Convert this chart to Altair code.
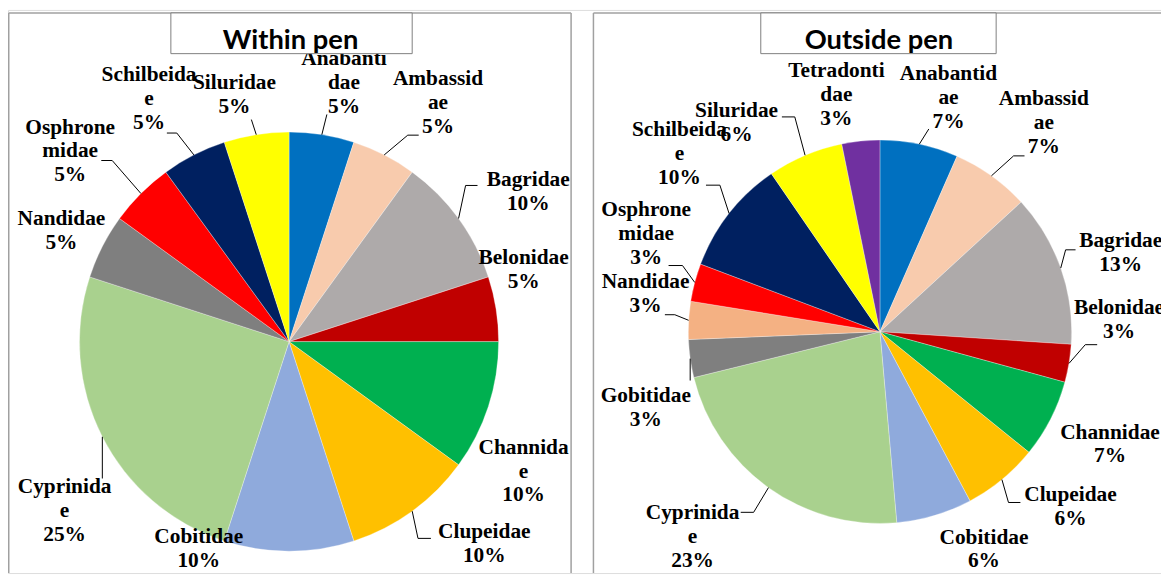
import altair as alt
import pandas as pd

# ------------------------------------------------------------------ data
within_family = ["Anabantidae", "Ambassidae", "Bagridae", "Belonidae", "Channidae",
                 "Clupeidae", "Cobitidae", "Cyprinidae", "Nandidae", "Osphronemidae",
                 "Schilbeidae", "Siluridae"]
within_value = [5, 5, 10, 5, 10, 10, 10, 25, 5, 5, 5, 5]
within_label = ["Anabanti\ndae", "Ambassid\nae", "Bagridae", "Belonidae", "Channida\ne",
                "Clupeidae", "Cobitidae", "Cyprinida\ne", "Nandidae", "Osphrone\nmidae",
                "Schilbeida\ne", "Siluridae"]
within_pct = ["5%", "5%", "10%", "5%", "10%", "10%", "10%", "25%", "5%", "5%", "5%", "5%"]
within_color = ["#0070C0", "#F8CBAD", "#AEAAAA", "#C00000", "#00B050", "#FFC000",
                "#8FAADC", "#A9D18E", "#7F7F7F", "#FF0000", "#002060", "#FFFF00"]

outside_family = ["Anabantidae", "Ambassidae", "Bagridae", "Belonidae", "Channidae",
                  "Clupeidae", "Cobitidae", "Cyprinidae", "Gobitidae", "Nandidae",
                  "Osphronemidae", "Schilbeidae", "Siluridae", "Tetradontidae"]
outside_value = [6.6, 6.6, 12.9, 3.2, 6.6, 6.4, 6.4, 22.6, 3.2, 3.2, 3.2, 9.7, 6.4, 3.2]
outside_label = ["Anabantid\nae", "Ambassid\nae", "Bagridae", "Belonidae", "Channidae",
                 "Clupeidae", "Cobitidae", "Cyprinida\ne", "Gobitidae", "Nandidae",
                 "Osphrone\nmidae", "Schilbeida\ne", "Siluridae", "Tetradonti\ndae"]
outside_pct = ["7%", "7%", "13%", "3%", "7%", "6%", "6%", "23%", "3%", "3%", "3%", "10%", "6%", "3%"]
outside_color = ["#0070C0", "#F8CBAD", "#AEAAAA", "#C00000", "#00B050", "#FFC000",
                 "#8FAADC", "#A9D18E", "#7F7F7F", "#F4B183", "#FF0000", "#002060",
                 "#FFFF00", "#7030A0"]

# ------------------------------------------------------------------ layout (styling)
W, H = 1161, 567
LINE_H = 24
LEFT = dict(cx=283, cy=334, r=211, R=270, title="Within pen",
            box=(164, 407, 3, 44), tx=284.5)
RIGHT = dict(cx=878, cy=324, r=193, R=255, title="Outside pen",
             box=(758, 995, 3, 44), tx=877)

# label offsets from the slice mid angle: (degrees, px)
within_nudge = {"Anabantidae": (3, -4), "Ambassidae": (5, 13), "Bagridae": (4, 14),
                "Belonidae": (-8, -23), "Channidae": (11, 0), "Clupeidae": (-8, 13),
                "Cobitidae": (23.5, -42), "Cyprinidae": (-10, 13), "Nandidae": (-1, -15),
                "Osphronemidae": (-4, 22), "Schilbeidae": (-3, 12), "Siluridae": (-3.5, -16)}
outside_nudge = {"Anabantidae": (4.5, -10), "Ambassidae": (2.6, 12), "Bagridae": (1.3, 0),
                 "Belonidae": (-12.4, -14), "Channidae": (-1, 3), "Clupeidae": (-7.8, 6),
                 "Cobitidae": (-9, -12), "Cyprinidae": (6.8, 25), "Gobitidae": (-10, -7),
                 "Nandidae": (5.7, -16), "Osphronemidae": (7.7, 0), "Schilbeidae": (3.5, 15),
                 "Siluridae": (-11.5, 0), "Tetradontidae": (-4.7, -13)}
# leader lines: (length px, direction deg, horizontal tick px)
within_leader = {"Anabantidae": (21, 14, 0), "Ambassidae": (31, 50, 11),
                 "Bagridae": (34, 12, 12), "Clupeidae": (28, 168, 13),
                 "Cyprinidae": (42, 180, 0), "Osphronemidae": (44, 319, -11),
                 "Schilbeidae": (28, 322, -10), "Siluridae": (16, 342, 0)}
outside_leader = {"Anabantidae": (18, 32, 0), "Ambassidae": (30, 48, 11),
                  "Bagridae": (19, 15, 10), "Belonidae": (25, 41, 12),
                  "Clupeidae": (24, 164, 12), "Cyprinidae": (29, 211, -13),
                  "Gobitidae": (22, 180, 0), "Nandidae": (15, 292, -10),
                  "Osphronemidae": (21, 324, -14), "Schilbeidae": (30, 342, -14),
                  "Siluridae": (40, 345, -13)}

LABEL_FONT = "Liberation Serif"
TITLE_FONT = "Lato"


def build_df(fam, val, lab, pct, nudge, leader):
    rows = []
    for i, f in enumerate(fam):
        dth, dr = nudge.get(f, (0, 0))
        L, ldir, tick = leader.get(f, (0, 0, 0))
        txt = lab[i] + "\n" + pct[i]
        rows.append(dict(idx=i, family=f, value=val[i], text=txt, nl=txt.count("\n"),
                         dth=dth, dr=dr, L=L, ldir=ldir, tick=tick))
    return pd.DataFrame(rows)


one = pd.DataFrame({"k": [0]})
px = dict(scale=None, axis=None)


def panel(df, fam, colors, P):
    cx, cy, r, R = P["cx"], P["cy"], P["r"], P["R"]
    base = alt.Chart(df)
    arcs = base.mark_arc(radius=r, stroke="#FFFFFF", strokeWidth=0.3).encode(
        theta=alt.Theta("value:Q", stack=True),
        color=alt.Color("family:N", scale=alt.Scale(domain=fam, range=colors), legend=None),
        order=alt.Order("idx:Q"),
        x=alt.value(cx), y=alt.value(cy),
    )
    geo = base.transform_joinaggregate(total="sum(value)").transform_window(
        cum="sum(value)", sort=[alt.SortField("idx")], frame=[None, 0]
    ).transform_calculate(
        mid="(datum.cum - datum.value/2)/datum.total*2*PI",
        la="(datum.cum - datum.value/2)/datum.total*2*PI + datum.dth*PI/180",
        lr=f"{R} + datum.dr",
    ).transform_calculate(
        lx=f"{cx} + datum.lr*sin(datum.la)",
        ly=f"{cy} - datum.lr*cos(datum.la) - datum.nl*{LINE_H}/2",
        ax=f"{cx} + {r}*sin(datum.mid)",
        ay=f"{cy} - {r}*cos(datum.mid)",
    ).transform_calculate(
        bx="datum.ax + datum.L*sin(datum.ldir*PI/180)",
        by="datum.ay - datum.L*cos(datum.ldir*PI/180)",
    ).transform_calculate(
        tx2="datum.bx + datum.tick",
    )
    leaders = geo.transform_filter("datum.L > 0").mark_rule(color="#000000", strokeWidth=1).encode(
        x=alt.X("ax:Q", **px), y=alt.Y("ay:Q", **px), x2="bx:Q", y2="by:Q")
    ticks = geo.transform_filter("datum.tick != 0").mark_rule(color="#000000", strokeWidth=1).encode(
        x=alt.X("bx:Q", **px), y=alt.Y("by:Q", **px), x2="tx2:Q")
    labels = geo.mark_text(font=LABEL_FONT, fontWeight="bold", fontSize=21.5, lineHeight=LINE_H,
                           lineBreak="\n", align="center", baseline="middle",
                           color="#000000").encode(
        x=alt.X("lx:Q", **px), y=alt.Y("ly:Q", **px), text="text:N")
    x1, x2, y1, y2 = P["box"]
    tbox = alt.Chart(one).mark_rect(fill="white", stroke="#7F7F7F", strokeWidth=1).encode(
        x=alt.value(x1), x2=alt.value(x2), y=alt.value(y1), y2=alt.value(y2))
    ttext = alt.Chart(one).mark_text(text=P["title"], font=TITLE_FONT, fontWeight="bold",
                                     fontSize=27.5, align="center", baseline="alphabetic",
                                     color="#000000").encode(
        x=alt.value(P["tx"]), y=alt.value(39))
    return [arcs, leaders, ticks, labels, tbox, ttext]


frame_col = "#A0A0A0"
frames = [
    alt.Chart(one).mark_rule(color=frame_col, strokeWidth=1.5).encode(
        x=alt.value(0.75), y=alt.value(3), y2=alt.value(H)),
    alt.Chart(one).mark_rule(color=frame_col, strokeWidth=1.5).encode(
        x=alt.value(567), y=alt.value(3), y2=alt.value(H)),
    alt.Chart(one).mark_rule(color=frame_col, strokeWidth=1.5).encode(
        x=alt.value(0.75), x2=alt.value(567), y=alt.value(3)),
    alt.Chart(one).mark_rule(color=frame_col, strokeWidth=1.5).encode(
        x=alt.value(589.5), y=alt.value(3), y2=alt.value(H)),
    alt.Chart(one).mark_rule(color=frame_col, strokeWidth=1.5).encode(
        x=alt.value(589.5), x2=alt.value(W), y=alt.value(3)),
]

df_w = build_df(within_family, within_value, within_label, within_pct, within_nudge, within_leader)
df_o = build_df(outside_family, outside_value, outside_label, outside_pct, outside_nudge, outside_leader)

layers = frames + panel(df_w, within_family, within_color, LEFT) + \
    panel(df_o, outside_family, outside_color, RIGHT)

chart = alt.layer(*layers).resolve_scale(
    theta="independent", color="independent"
).properties(
    width=W, height=H, padding=0, autosize="none"
).configure_view(stroke=None).configure(background="white")

chart.save("out.html", embed_options={"renderer": "svg", "actions": False})
